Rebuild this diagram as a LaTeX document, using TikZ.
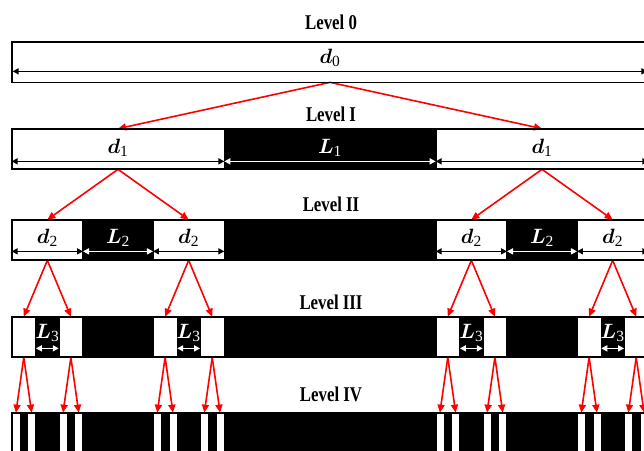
\documentclass[tikz,border=0pt]{standalone}
\usepackage{amsmath}
\usepackage{graphicx}
\usepackage{fontspec}
\setmainfont{Liberation Serif}
\usetikzlibrary{arrows.meta,calc}
% segment label: bold italic letter with a fairly large subscript digit
\newcommand\seglab[2]{$\boldsymbol{#1}_{\mbox{\fontsize{15.5}{15.5}\selectfont #2}}$}

\begin{document}
\begin{tikzpicture}[x=1pt,y=-1pt,
  barbox/.style={draw=none,fill=black,inner sep=0pt,minimum width=636pt,minimum height=40pt},
  cell/.style={draw=black,fill=white,line width=0.7pt,inner sep=0pt,minimum height=40pt},
  rim/.style={draw=black,line width=1.6pt},
  title/.style={font=\fontsize{21}{21}\selectfont\bfseries,inner sep=0pt},
  lab/.style={font=\fontsize{20}{20}\selectfont,inner sep=0pt},
  span/.style={line width=1.6pt,{Triangle[length=6pt,width=6pt]}-{Triangle[length=6pt,width=6pt]}},
  link/.style={draw=red,line width=1.6pt,-{Triangle[length=8pt,width=7pt]}},
]
\useasboundingbox (0,0) rectangle (644,450);
\clip (0,0) rectangle (644,450);

% level titles
\node[title] (t0) at (331,22)  {\scalebox{0.8}[1]{Level 0}};
\node[title] (t1) at (331,114) {\scalebox{0.8}[1]{Level I}};
\node[title] (t2) at (331,204) {\scalebox{0.8}[1]{Level II}};
\node[title] (t3) at (331,302) {\scalebox{0.8}[1]{Level III}};
\node[title] (t4) at (331,394) {\scalebox{0.8}[1]{Level IV}};

% black background bars
\node[barbox] (bar1) at (330,149) {};
\node[barbox] (bar2) at (330,240) {};
\node[barbox] (bar3) at (330,337) {};
\node[barbox] (bar4) at (330,433) {};

% level 0
\node[cell,minimum width=636pt] (b0) at (330,62) {};
\draw[span,black] ($(b0.south west)+(1,-11)$) -- ($(b0.south east)+(-1,-11)$);
\node[lab] (l0) at (330,58) {\seglab{d}{0}};

% level I
\node[cell,minimum width=212pt] (b1a) at (118,149) {};
\node[cell,minimum width=212pt] (b1b) at (542,149) {};
\draw[span,black] ($(b1a.south west)+(0,-8)$) -- ($(b1a.south east)+(0,-8)$);
\draw[span,black] ($(b1b.south west)+(0,-8)$) -- ($(b1b.south east)+(0,-8)$);
\draw[span,white] ($(b1a.south east)+(0,-8)$) -- ($(b1b.south west)+(0,-8)$);
\node[lab] (l1a) at (118,148) {\seglab{d}{1}};
\node[lab] (l1b) at (542,148) {\seglab{d}{1}};
\node[lab,text=white] (l1c) at (330,148) {\seglab{L}{1}};
\draw[link] (b0.south) -- (b1a.north);
\draw[link] (b0.south) -- (b1b.north);

% level II
\foreach \c [count=\i] in {47.333,188.667,471.333,612.667} {
  \node[cell,minimum width=70.667pt] (b2-\i) at (\c,240) {};
  \draw[span,black] ($(b2-\i.south west)+(0,-9)$) -- ($(b2-\i.south east)+(0,-9)$);
  \node[lab] (l2-\i) at (\c,238) {\seglab{d}{2}};
}
\draw[span,white] ($(b2-1.south east)+(0,-9)$) -- ($(b2-2.south west)+(0,-9)$);
\draw[span,white] ($(b2-3.south east)+(0,-9)$) -- ($(b2-4.south west)+(0,-9)$);
\node[lab,text=white] (m2a) at (118,238) {\seglab{L}{2}};
\node[lab,text=white] (m2b) at (542,238) {\seglab{L}{2}};
\draw[link] (b1a.south) -- (b2-1.north);
\draw[link] (b1a.south) -- (b2-2.north);
\draw[link] (b1b.south) -- (b2-3.north);
\draw[link] (b1b.south) -- (b2-4.north);

% levels III and IV
\foreach \c [count=\i] in {47.333,188.667,471.333,612.667} {
  \foreach \s in {1,2} {
    \pgfmathsetmacro\m{\c+(2*\s-3)*23.556}
    \node[cell,minimum width=23.556pt] (b3-\i-\s) at (\m,337) {};
    \draw[link] (b2-\i.south) -- (b3-\i-\s.north);
    \foreach \t in {1,2} {
      \pgfmathsetmacro\n{\m+(2*\t-3)*7.852}
      \node[cell,minimum width=7.852pt] (b4-\i-\s-\t) at (\n,433) {};
      \draw[link] (b3-\i-\s.south) -- (b4-\i-\s-\t.north);
    }
  }
  \draw[span,white] ($(b3-\i-1.south east)+(0,-9)$) -- ($(b3-\i-2.south west)+(0,-9)$);
  \node[lab,text=white] (l3-\i) at (\c,333) {\seglab{L}{3}};
}

% outer frames of the bars
\draw[rim] (b0.north west) rectangle (b0.south east);
\draw[rim] (bar1.north west) rectangle (bar1.south east);
\draw[rim] (bar2.north west) rectangle (bar2.south east);
\draw[rim] (bar3.north west) rectangle (bar3.south east);
\draw[rim] (bar4.north west) rectangle (bar4.south east);
\end{tikzpicture}
\end{document}
